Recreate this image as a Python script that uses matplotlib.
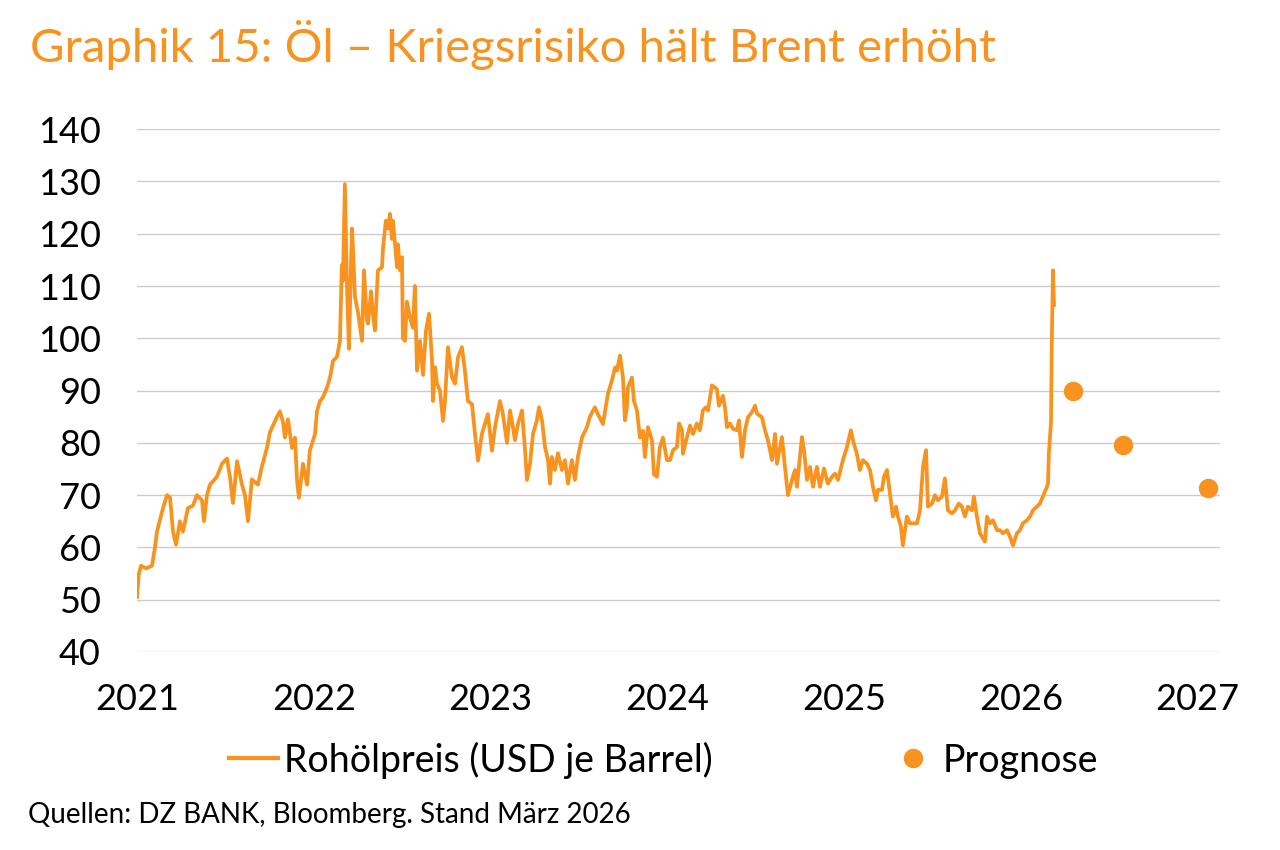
import numpy as np
import matplotlib.pyplot as plt
from matplotlib.lines import Line2D

plt.rcParams['font.family'] = ['Lato', 'DejaVu Sans']

orange = '#F7931E'

# Brent price (decimal years)
t_2021 = [2021.000, 2021.011, 2021.023, 2021.051, 2021.085, 2021.102, 2021.113, 2021.147, 2021.170, 2021.187,
          2021.204, 2021.221, 2021.243, 2021.260, 2021.288, 2021.317, 2021.339, 2021.368, 2021.379, 2021.396,
          2021.413, 2021.452, 2021.481, 2021.509, 2021.526, 2021.543, 2021.566, 2021.594, 2021.611, 2021.628,
          2021.650, 2021.684, 2021.707, 2021.735, 2021.752, 2021.792, 2021.809, 2021.826, 2021.837, 2021.854,
          2021.877, 2021.894, 2021.905, 2021.916, 2021.939, 2021.962, 2021.978]
p_2021 = [50.5, 55, 56.5, 56, 56.5, 60, 63, 67.5, 70, 69.5,
          63, 60.5, 65, 63, 67.5, 68, 70, 69, 65, 70,
          72, 73.5, 76, 77, 73.5, 68.5, 76.5, 72, 70, 65,
          73, 72, 75.5, 79, 82, 85, 86, 84, 81, 84.5,
          79, 81, 73, 69.5, 76, 72, 78.5]

t_2022 = [2022.007, 2022.018, 2022.035, 2022.052, 2022.075, 2022.092, 2022.109, 2022.131, 2022.148, 2022.159,
          2022.165, 2022.176, 2022.188, 2022.199, 2022.216, 2022.222, 2022.233, 2022.250, 2022.273, 2022.284,
          2022.301, 2022.307, 2022.324, 2022.335, 2022.346, 2022.363, 2022.386, 2022.391, 2022.408, 2022.420,
          2022.431, 2022.442, 2022.448, 2022.471, 2022.476, 2022.488, 2022.499, 2022.504, 2022.516, 2022.527,
          2022.544, 2022.561, 2022.572, 2022.584, 2022.601, 2022.618, 2022.635, 2022.652, 2022.669, 2022.674,
          2022.686, 2022.697, 2022.714, 2022.731, 2022.742, 2022.759, 2022.782, 2022.799, 2022.816, 2022.838,
          2022.855, 2022.872, 2022.895, 2022.912, 2022.929, 2022.951, 2022.968, 2022.985]
p_2022 = [81.7, 86, 88, 88.7, 90.6, 92.5, 95.7, 96.4, 99.5, 114,
          111, 129.5, 110, 98, 121, 117, 108, 105, 99.5, 113,
          103.4, 102.8, 109, 104.7, 101.5, 113, 113.6, 117, 122.5, 121,
          123.8, 119, 122.5, 113.6, 118, 113, 115.5, 100, 99.5, 107,
          104, 102, 110, 93.8, 99.5, 93, 101.5, 104.7, 95.7, 88,
          94.5, 91.3, 90, 84.2, 88, 98.3, 92.5, 91.3, 96.4, 98.3,
          93.8, 88, 87.4, 81.7, 76.6, 81.7, 83.6, 85.5]

t_2023 = [2023.008, 2023.025, 2023.053, 2023.070, 2023.093, 2023.110, 2023.127, 2023.138, 2023.155, 2023.178,
          2023.195, 2023.206, 2023.223, 2023.240, 2023.262, 2023.274, 2023.291, 2023.308, 2023.325, 2023.336,
          2023.347, 2023.364, 2023.381, 2023.404, 2023.421, 2023.438, 2023.460, 2023.477, 2023.494, 2023.517,
          2023.545, 2023.562, 2023.590, 2023.607, 2023.636, 2023.664, 2023.687, 2023.704, 2023.715, 2023.732,
          2023.749, 2023.760, 2023.771, 2023.777, 2023.800, 2023.811, 2023.828, 2023.845, 2023.862, 2023.873,
          2023.890, 2023.913, 2023.924, 2023.941, 2023.958, 2023.975, 2023.998]
p_2023 = [78.5, 83, 88, 85.5, 80, 86.2, 83, 80.5, 83.6, 86.2,
          78.6, 72.9, 76, 81.7, 84.3, 86.8, 84.3, 79.2, 76.7, 72.2,
          77.3, 74.8, 78, 74.8, 76.7, 72.2, 76.7, 72.9, 77.3, 81,
          83, 85, 86.8, 85.5, 83.6, 89.4, 92, 94.4, 93.8, 96.7,
          92.5, 84.3, 86.8, 90.6, 92.5, 88, 86.2, 81, 82.3, 77.3,
          83, 80.5, 74, 73.5, 79.2, 81, 76.7]

t_2024 = [2024.015, 2024.032, 2024.054, 2024.066, 2024.083, 2024.088, 2024.111, 2024.128, 2024.145, 2024.167,
          2024.184, 2024.201, 2024.218, 2024.230, 2024.252, 2024.280, 2024.292, 2024.314, 2024.326, 2024.337,
          2024.354, 2024.371, 2024.394, 2024.405, 2024.422, 2024.439, 2024.456, 2024.479, 2024.496, 2024.507,
          2024.535, 2024.552, 2024.569, 2024.592, 2024.609, 2024.620, 2024.648, 2024.665, 2024.682, 2024.705,
          2024.722, 2024.733, 2024.761, 2024.773, 2024.790, 2024.807, 2024.824, 2024.846, 2024.863, 2024.886,
          2024.908, 2024.931, 2024.948, 2024.965, 2024.993]
p_2024 = [76.7, 78.6, 79.2, 83.7, 82.4, 77.9, 81.1, 83.3, 81.7, 83.7,
          82.4, 86.2, 86.8, 86.2, 91, 90.3, 87.1, 89, 86.8, 83,
          83.7, 82.7, 82.4, 84.3, 77.3, 82.4, 84.9, 85.9, 87.1, 85.6,
          84.9, 82.4, 80.5, 76.7, 81.7, 76, 81.1, 75.4, 70, 72.9,
          74.8, 71.6, 81.1, 78.6, 72.9, 75.4, 71.6, 75.4, 71.6, 75.1,
          72.2, 73.5, 74.1, 72.9, 76.7]

t_2025 = [2025.016, 2025.038, 2025.050, 2025.072, 2025.089, 2025.106, 2025.129, 2025.146, 2025.163, 2025.180,
          2025.191, 2025.214, 2025.225, 2025.242, 2025.259, 2025.276, 2025.293, 2025.304, 2025.321, 2025.332,
          2025.355, 2025.372, 2025.389, 2025.412, 2025.429, 2025.446, 2025.463, 2025.474, 2025.497, 2025.514,
          2025.530, 2025.553, 2025.570, 2025.587, 2025.610, 2025.627, 2025.649, 2025.666, 2025.683, 2025.700,
          2025.723, 2025.734, 2025.751, 2025.768, 2025.796, 2025.808, 2025.825, 2025.842, 2025.864, 2025.881,
          2025.898, 2025.921, 2025.938, 2025.955, 2025.977, 2025.994]
p_2025 = [79.2, 82.4, 80.5, 77.9, 74.8, 76.7, 76, 74.8, 71.6, 69,
          71, 71, 73.5, 74.8, 70.3, 65.9, 67.8, 65.9, 64, 60.4,
          65.9, 64.6, 64.6, 64.6, 67.1, 75.4, 78.6, 67.8, 68.4, 70,
          69, 69.7, 73.2, 67.1, 66.5, 67.1, 68.4, 67.8, 65.9, 67.8,
          67.1, 69.7, 65.9, 62.7, 61.1, 65.9, 64.6, 65.2, 63.3, 63.3,
          62.7, 63.3, 62, 60.4, 62.7, 63.3]

t_2026 = [2026.011, 2026.034, 2026.051, 2026.068, 2026.090, 2026.107, 2026.124, 2026.147, 2026.153, 2026.158,
          2026.170, 2026.175, 2026.181, 2026.187]
p_2026 = [64.6, 65.2, 65.9, 67.1, 67.8, 68.4, 69.7, 71.6, 72.2, 78,
          84, 100, 113, 106.4]

# DZ BANK forecast
t_prognose = [2026.294, 2026.577, 2027.058]
p_prognose = [90, 79.5, 71.3]

years = [2021, 2022, 2023, 2024, 2025, 2026, 2027]
y_ticks = [40, 50, 60, 70, 80, 90, 100, 110, 120, 130, 140]

t_all = t_2021 + t_2022 + t_2023 + t_2024 + t_2025 + t_2026
p_all = p_2021 + p_2022 + p_2023 + p_2024 + p_2025 + p_2026

fig = plt.figure(figsize=(12.8, 8.5), dpi=100)
ax = fig.add_axes([0.107, 0.233, 0.846, 0.615])

ax.plot(t_all, p_all, color=orange, lw=2.7, solid_joinstyle='round')
ax.plot(t_prognose, p_prognose, 'o', color=orange, ms=13, ls='none')

ax.set_xlim(2021, 2027.125)
ax.set_ylim(40, 140)
ax.set_xticks(years)
ax.set_xticklabels([str(y) for y in years])
ax.set_yticks(y_ticks)
ax.yaxis.grid(True, color='#cccccc', lw=1)
ax.set_axisbelow(True)
for s in ax.spines.values():
    s.set_visible(False)
ax.tick_params(axis='both', length=0, labelsize=26, colors='black')
ax.tick_params(axis='y', pad=26)
ax.tick_params(axis='x', pad=22)

fig.text(30 / 1280, 1 - 45 / 850, 'Graphik 15: Öl – Kriegsrisiko hält Brent erhöht',
         color=orange, fontsize=34, ha='left', va='center')

handles = [Line2D([], [], color=orange, lw=3),
           Line2D([], [], color=orange, marker='o', ms=13, ls='none')]
fig.legend(handles, ['Rohölpreis (USD je Barrel)', 'Prognose'], ncol=2,
           loc='center', bbox_to_anchor=(664 / 1280, 1 - 760 / 850), frameon=False,
           fontsize=27, handlelength=1.3, handletextpad=0.15, columnspacing=4.7)

fig.text(28 / 1280, 1 - 815 / 850, 'Quellen: DZ BANK, Bloomberg. Stand März 2026',
         fontsize=20, ha='left', va='center')

fig.savefig('out.png', dpi=100)
